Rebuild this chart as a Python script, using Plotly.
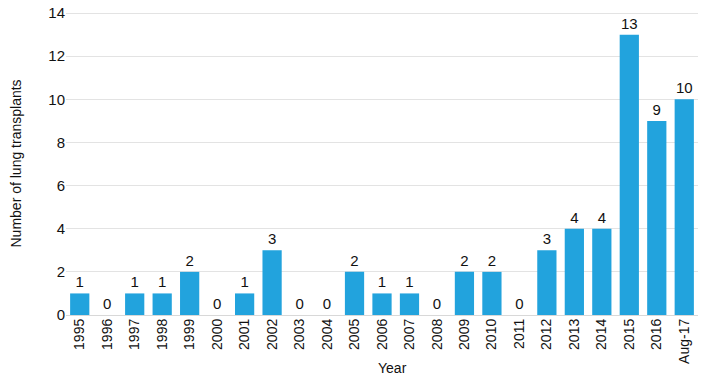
import plotly.graph_objects as go

years = ["1995", "1996", "1997", "1998", "1999", "2000", "2001", "2002", "2003", "2004",
         "2005", "2006", "2007", "2008", "2009", "2010", "2011", "2012", "2013", "2014",
         "2015", "2016", "Aug-17"]
transplants = [1, 0, 1, 1, 2, 0, 1, 3, 0, 0, 2, 1, 1, 0, 2, 2, 0, 3, 4, 4, 13, 9, 10]
y_ticks = [0, 2, 4, 6, 8, 10, 12, 14]

fig = go.Figure(go.Bar(
    x=years, y=transplants,
    text=[str(v) for v in transplants],
    textposition="outside",
    textfont=dict(size=15, color="#111111"),
    marker=dict(color="#22a3dd", line=dict(width=0)),
    cliponaxis=False,
))

fig.update_layout(
    width=716, height=379,
    margin=dict(l=66, r=18, t=12, b=64, autoexpand=False),
    paper_bgcolor="white", plot_bgcolor="white",
    font=dict(family="Liberation Sans, Arial, sans-serif", size=14, color="#111111"),
    bargap=0.3,
    showlegend=False,
    uniformtext=dict(minsize=15, mode="show"),
    xaxis=dict(
        tickangle=-90, tickfont=dict(size=14),
        showline=False, ticks="", automargin=False,
    ),
    yaxis=dict(
        range=[0, 14.05], tickvals=y_ticks, tickfont=dict(size=15),
        showgrid=True, gridcolor="#e3e3e3", gridwidth=1,
        zeroline=True, zerolinecolor="#d8d8d8", zerolinewidth=1,
        ticks="", showline=False, automargin=False,
    ),
    annotations=[
        dict(text="Year", xref="paper", yref="paper", x=0.516, y=-53 / 303,
             xanchor="center", yanchor="middle", showarrow=False,
             font=dict(size=14, color="#111111")),
        dict(text="Number of lung transplants", xref="paper", yref="paper",
             x=-51 / 632, y=0.5, textangle=-90,
             xanchor="center", yanchor="middle", showarrow=False,
             font=dict(size=14, color="#111111")),
    ],
)

fig.write_html("out.html",
               config={"displayModeBar": False},
               post_script="document.body.style.margin='0';document.body.style.overflow='hidden';")
